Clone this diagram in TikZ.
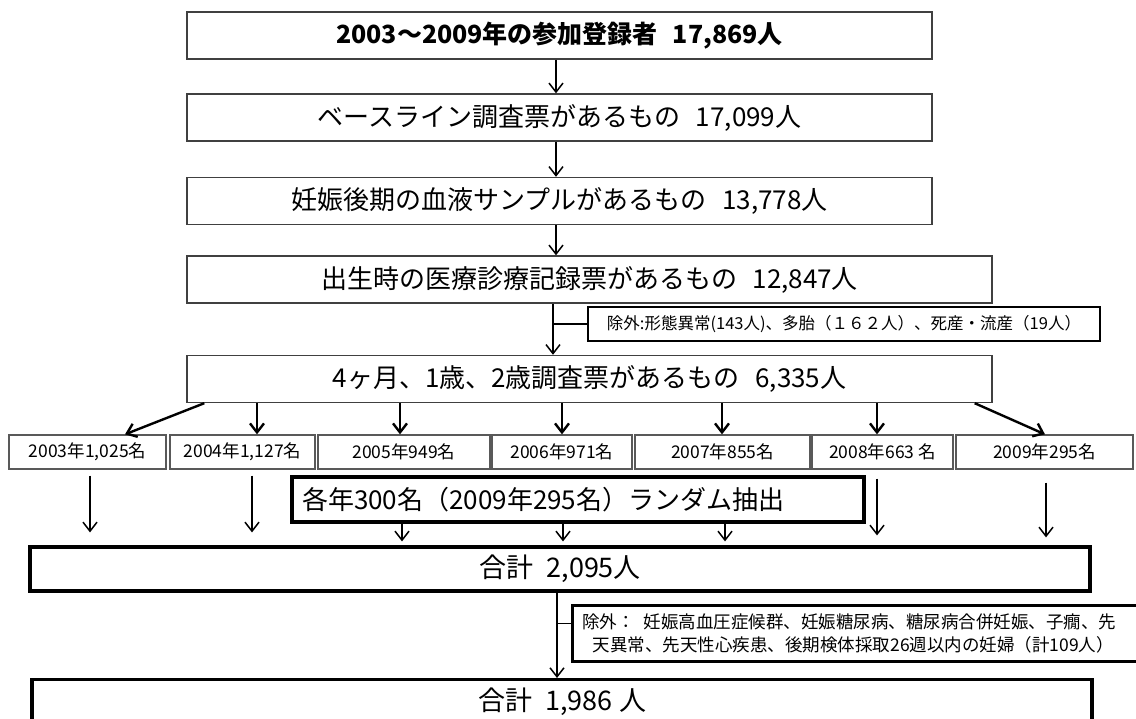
\documentclass[tikz,border=0pt]{standalone}
\usepackage{fontspec}
\setmainfont{Noto Sans CJK JP}
\usetikzlibrary{arrows.meta,calc}
\begin{document}
\begin{tikzpicture}[x=1pt,y=-1pt,
  mainbox/.style={draw=black!75, line width=1.4pt, minimum width=745pt, minimum height=47pt, inner sep=0pt, font=\fontsize{26}{30}\selectfont},
  widebox/.style={mainbox, minimum width=805pt},
  yearbox/.style={draw=black!65, line width=1.3pt, minimum height=34pt, inner sep=0pt, font=\fontsize{17.5}{20}\selectfont},
  thickbox/.style={draw=black, line width=3.2pt, inner sep=0pt},
  exbox/.style={draw=black, line width=2.8pt, inner sep=0pt},
  arr/.style={-{Straight Barb[length=9pt,width=14pt]}, line width=1.5pt},
  arrthick/.style={-{Straight Barb[length=9pt,width=14pt]}, line width=2.4pt},
  link/.style={line width=1.5pt},
]
\useasboundingbox (0,0) rectangle (1136,719);

% main chain
\node[mainbox, font=\bfseries\fontsize{25}{30}\selectfont] (b1) at (559.5,35.5) {2003～2009年の参加登録者\hspace{0.6em}17,869人};
\node[mainbox] (b2) at (559.5,117.5) {ベースライン調査票があるもの\hspace{0.6em}17,099人};
\node[mainbox] (b3) at (559.5,201) {妊娠後期の血液サンプルがあるもの\hspace{0.6em}13,778人};
\node[widebox] (b4) at (589.5,279.5) {出生時の医療診療記録票があるもの\hspace{0.6em}12,847人\hspace{36pt}};
\node[widebox] (b5) at (589.5,379) {4ヶ月、1歳、2歳調査票があるもの\hspace{0.6em}6,335人\hspace{36pt}};

\node[exbox, minimum width=512pt, minimum height=34pt, font=\fontsize{16.5}{20}\selectfont] (ex1) at (844,324) {除外:形態異常(143人)、多胎（１６２人）、死産・流産（19人）};

% year boxes
\node[yearbox, minimum width=157pt] (y1) at (87.5,452) {2003年1,025名};
\node[yearbox, minimum width=145pt] (y2) at (242.5,452) {2004年1,127名};
\node[yearbox, minimum width=172pt] (y3) at (404,452) {2005年949名};
\node[yearbox, minimum width=140pt] (y4) at (562,452) {2006年971名};
\node[yearbox, minimum width=175pt] (y5) at (722.5,452) {2007年855名};
\node[yearbox, minimum width=141pt] (y6) at (882.5,452) {2008年663 名};
\node[yearbox, minimum width=177pt] (y7) at (1044.5,452) {2009年295名};

% random extraction box
\node[thickbox, minimum width=572pt, minimum height=45pt, text width=552pt, inner xsep=10pt, align=left, font=\fontsize{26}{30}\selectfont] (rb) at (578,499.5) {各年300名（2009年295名）ランダム抽出};

% totals
\node[thickbox, minimum width=1060pt, minimum height=44pt, font=\fontsize{27}{30}\selectfont] (t1) at (560,569) {合計\hspace{0.5em}2,095人};
\node[thickbox, minimum width=1060pt, minimum height=44pt, anchor=north, font=\fontsize{27}{30}\selectfont] (t2) at (562,678) {合計\hspace{0.5em}1,986 人};

\node[exbox, anchor=north west, minimum height=56pt, text width=560pt, inner xsep=10pt, align=left, font=\fontsize{17.5}{23}\selectfont] (ex2) at (571,604) {除外：\hspace{0.5em}妊娠高血圧症候群、妊娠糖尿病、糖尿病合併妊娠、子癇、先\\\hspace*{0.6em}天異常、先天性心疾患、後期検体採取26週以内の妊婦（計109人）};

% x positions of vertical connectors
\coordinate (ax) at (556,0);
\coordinate (ax2) at (553,0);
\coordinate (ax3) at (557,0);
\coordinate (v2) at (257,0);
\coordinate (v3) at (400,0);
\coordinate (v4) at (562,0);
\coordinate (v5) at (722,0);
\coordinate (v6) at (877,0);
\coordinate (w1) at (90,0);
\coordinate (w2) at (252,0);
\coordinate (w6) at (877,0);
\coordinate (w7) at (1046,0);
\coordinate (r1) at (402,0);
\coordinate (r2) at (563,0);
\coordinate (r3) at (725,0);

\draw[arr] (b1.south -| ax) -- (b2.north -| ax);
\draw[arr] (b2.south -| ax) -- (b3.north -| ax);
\draw[arr] (b3.south -| ax) -- (b4.north -| ax);
\draw[arr] (b4.south -| ax2) -- (b5.north -| ax2);
\draw[link] (ex1.west -| ax2) -- (ex1.west);

\draw[arrthick] ($(b5.south west)+(18,0)$) -- ($(y1.north)+(37.5,0)$);
\draw[arrthick] (b5.south -| v2) -- (y2.north -| v2);
\draw[arrthick] (b5.south -| v3) -- (y3.north -| v3);
\draw[arrthick] (b5.south -| v4) -- (y4.north -| v4);
\draw[arrthick] (b5.south -| v5) -- (y5.north -| v5);
\draw[arrthick] (b5.south -| v6) -- (y6.north -| v6);
\draw[arrthick] ($(b5.south east)+(-18,0)$) -- ($(y7.north)+(0.5,0)$);

\draw[arr] ($(y1.south -| w1)+(0,6)$) -- ($(t1.north -| w1)+(0,-13)$);
\draw[arr] ($(y2.south -| w2)+(0,6)$) -- ($(t1.north -| w2)+(0,-13)$);
\draw[arr] ($(y6.south -| w6)+(0,9)$) -- ($(t1.north -| w6)+(0,-10)$);
\draw[arr] ($(y7.south -| w7)+(0,13)$) -- ($(t1.north -| w7)+(0,-8)$);
\draw[arr] (rb.south -| r1) -- ($(t1.north -| r1)+(0,-4)$);
\draw[arr] (rb.south -| r2) -- ($(t1.north -| r2)+(0,-4)$);
\draw[arr] (rb.south -| r3) -- ($(t1.north -| r3)+(0,-4)$);

\draw[arr] (t1.south -| ax3) -- (t2.north -| ax3);
\draw[link] ($(ex2.west -| ax3)+(0,-10)$) -- ($(ex2.west)+(0,-10)$);
\end{tikzpicture}
\end{document}
